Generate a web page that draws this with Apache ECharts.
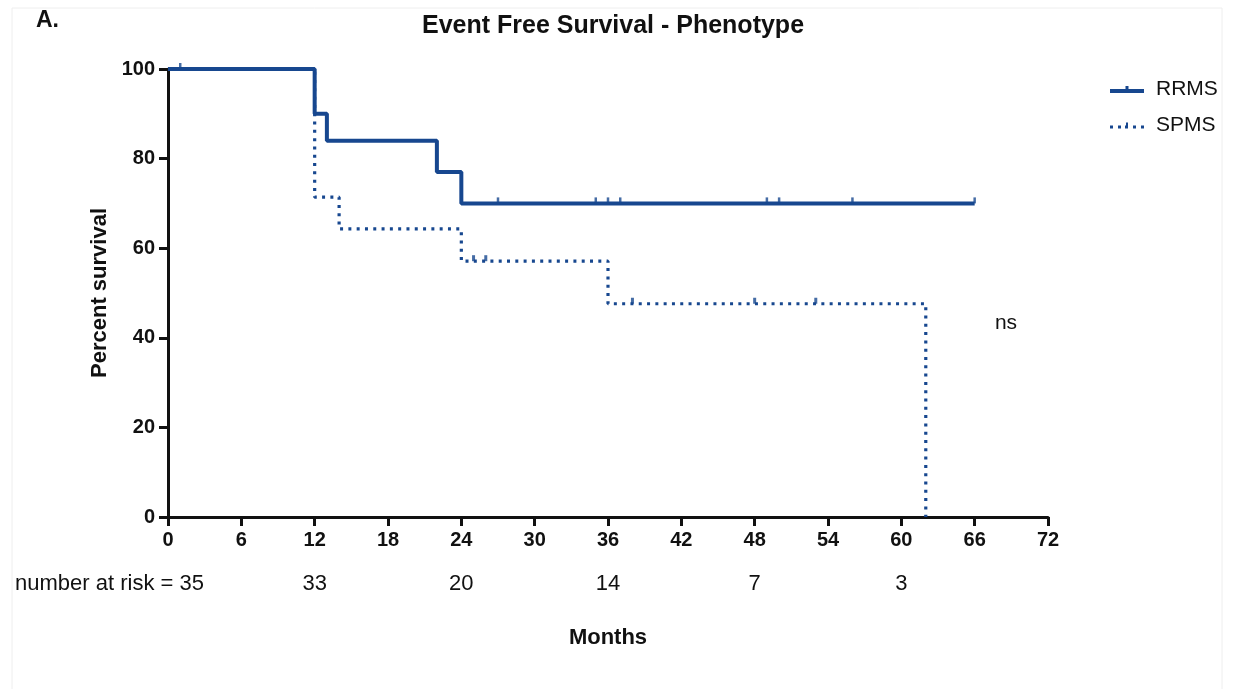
<!DOCTYPE html>
<html>
<head>
<meta charset="utf-8">
<script src="https://cdn.jsdelivr.net/npm/echarts@6/dist/echarts.min.js"></script>
<style>
html,body{margin:0;padding:0;background:#fff;}
#chart{width:1245px;height:689px;}
</style>
</head>
<body>
<div id="chart"></div>
<script>
// ---- data ----
var xTicks = [0, 6, 12, 18, 24, 30, 36, 42, 48, 54, 60, 66, 72];
var yTicks = [0, 20, 40, 60, 80, 100];
// Kaplan-Meier steps: [month, percent]
var rrmsSteps = [[0, 100], [12, 90], [13, 84], [22, 77], [24, 70], [66, 70]];
var spmsSteps = [[0, 100], [12, 71.4], [14, 64.3], [24, 57.1], [36, 47.6], [62, 47.6], [62, 0]];
// censored observations
var rrmsCensor = [[1, 100], [27, 70], [35, 70], [36, 70], [37, 70], [49, 70], [50, 70], [56, 70], [66, 70]];
var spmsCensor = [[25, 57.1], [26, 57.1], [38, 47.6], [48, 47.6], [53, 47.6]];
// number at risk
var riskMonths = [12, 24, 36, 48, 60];
var riskCounts = ['33', '20', '14', '7', '3'];
var riskFirstLabel = 'number at risk = 35';

var COLOR = '#17478f';
var FONT = 'Liberation Sans, Arial, sans-serif';

var chart = echarts.init(document.getElementById('chart'), null, {renderer: 'canvas'});

var rrmsIcon = 'path://M0,3 L15.5,3 L15.5,0 L18.5,0 L18.5,3 L34,3 L34,7 L0,7 Z';
var spmsIcon = 'path://M0,4 h3 v3 h-3 Z M8,4 h3 v3 h-3 Z M15,4 h3 v3 h-3 Z M16,1 h2 v3 h-2 Z M23,4 h3 v3 h-3 Z M31,4 h3 v3 h-3 Z';

var option = {
  backgroundColor: '#fff',
  animation: false,
  title: {
    text: 'Event Free Survival - Phenotype',
    left: 608, top: 9, textAlign: 'center',
    textStyle: {fontFamily: FONT, fontWeight: 'bold', fontSize: 25, color: '#111'}
  },
  legend: {
    orient: 'vertical',
    left: 1105, top: 74,
    itemWidth: 34, itemHeight: 7, itemGap: 15,
    data: [{name: 'RRMS', icon: rrmsIcon}, {name: 'SPMS', icon: spmsIcon}],
    textStyle: {fontFamily: FONT, fontSize: 21, color: '#111', padding: [0, 0, 0, 7]}
  },
  grid: {left: 168, right: 197, top: 69, bottom: 172, containLabel: false},
  xAxis: {
    type: 'value', min: 0, max: 72, interval: 6,
    name: 'Months', nameLocation: 'middle', nameGap: 110,
    nameTextStyle: {fontFamily: FONT, fontWeight: 'bold', fontSize: 22, color: '#111'},
    axisLine: {show: true, onZero: false, lineStyle: {color: '#111', width: 3}},
    axisTick: {show: true, length: 9, lineStyle: {color: '#111', width: 3}},
    axisLabel: {fontFamily: FONT, fontWeight: 'bold', fontSize: 20, color: '#111', margin: 13},
    splitLine: {show: false}
  },
  yAxis: {
    type: 'value', min: 0, max: 100, interval: 20,
    name: 'Percent survival', nameLocation: 'middle', nameGap: 55,
    nameTextStyle: {fontFamily: FONT, fontWeight: 'bold', fontSize: 22, color: '#111'},
    axisLine: {show: true, lineStyle: {color: '#111', width: 3}},
    axisTick: {show: true, length: 9, lineStyle: {color: '#111', width: 3}},
    axisLabel: {fontFamily: FONT, fontWeight: 'bold', fontSize: 20, color: '#111', margin: 13},
    splitLine: {show: false}
  },
  series: [
    {
      name: 'RRMS', type: 'line', step: 'end', data: rrmsSteps,
      showSymbol: false, symbol: 'none',
      lineStyle: {color: COLOR, width: 4},
      itemStyle: {color: COLOR}, z: 3
    },
    {
      name: 'SPMS', type: 'line', step: 'end', data: spmsSteps,
      showSymbol: false, symbol: 'none',
      lineStyle: {color: COLOR, width: 3.2, type: [3, 5.3]},
      itemStyle: {color: COLOR}, z: 2
    },
    {
      name: 'RRMS censored', type: 'scatter', data: rrmsCensor,
      symbol: 'rect', symbolSize: [2.5, 6], symbolOffset: [0, -3],
      itemStyle: {color: COLOR}, z: 4, silent: true
    },
    {
      name: 'SPMS censored', type: 'scatter', data: spmsCensor,
      symbol: 'rect', symbolSize: [3, 6], symbolOffset: [0, -3],
      itemStyle: {color: COLOR}, z: 4, silent: true
    }
  ]
};
chart.setOption(option);

// annotations positioned through the axis scales
var gfx = [];
gfx.push({type: 'rect', shape: {x: 12, y: 8, width: 1210, height: 700}, style: {fill: 'none', stroke: '#eeeeee', lineWidth: 1}, silent: true, z: -1});
gfx.push({type: 'text', x: 36, y: 21, style: {text: 'A.', font: 'bold 23px ' + FONT, fill: '#111', textVerticalAlign: 'middle'}});
var yRisk = 584;
gfx.push({type: 'text', x: 204, y: yRisk, style: {text: riskFirstLabel, font: '22px ' + FONT, fill: '#111', textAlign: 'right', textVerticalAlign: 'middle'}});
for (var i = 0; i < riskMonths.length; i++) {
  var px = chart.convertToPixel({xAxisIndex: 0}, riskMonths[i]);
  gfx.push({type: 'text', x: px, y: yRisk, style: {text: riskCounts[i], font: '22px ' + FONT, fill: '#111', textAlign: 'center', textVerticalAlign: 'middle'}});
}
gfx.push({type: 'text', x: 1006, y: 323, style: {text: 'ns', font: '21px ' + FONT, fill: '#111', textAlign: 'center', textVerticalAlign: 'middle'}});
chart.setOption({graphic: gfx});
</script>
</body>
</html>
